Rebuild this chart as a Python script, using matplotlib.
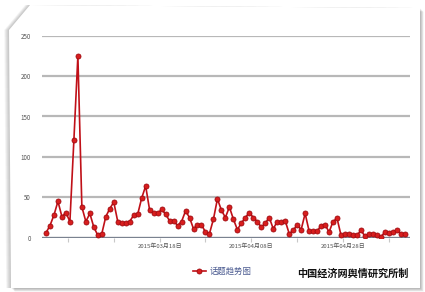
import numpy as np
import matplotlib
matplotlib.use('Agg')
import matplotlib.pyplot as plt
from matplotlib.patches import Polygon

plt.rcParams['font.family'] = ['Noto Sans CJK SC', 'DejaVu Sans']

# daily topic heat values
values = [6, 15, 28, 45, 26, 31, 20, 121, 225, 38,
          20, 30, 13, 3, 5, 26, 36, 44, 20, 18,
          18, 20, 28, 29, 49, 64, 34, 30, 30, 35,
          29, 21, 21, 15, 20, 33, 25, 11, 16, 16,
          7, 5, 23, 48, 34, 25, 38, 23, 10, 18,
          25, 31, 25, 20, 13, 18, 25, 11, 20, 19,
          21, 5, 9, 16, 10, 30, 8, 8, 8, 15,
          16, 7, 20, 24, 3, 4, 4, 3, 3, 9,
          2, 4, 4, 3, 1, 7, 6, 7, 9, 5, 4]
tick_pos = [5.5, 17, 28.5, 40, 51.5, 63, 74.5, 86]
tick_labels = ['', '', '2015年03月18日', '', '2015年04月08日', '', '2015年04月28日', '']
y_ticks = [0, 50, 100, 150, 200, 250]
series_name = '话题趋势图'
credit = '中国经济网舆情研究所制'

W, H = 425, 292
fig = plt.figure(figsize=(W / 100, H / 100), dpi=100)
fig.patch.set_facecolor('white')

# paper card with soft shadow (pixel coords, y down)
paper = [(30, 5), (420, 8), (420, 288), (11, 288), (9, 30)]
def to_fig(pts, dx=0, dy=0):
    return [((x + dx) / W, 1 - (y + dy) / H) for x, y in pts]
for k in range(6, 0, -1):
    fig.patches.append(Polygon(to_fig(paper, dx=k * 0.6, dy=k * 0.6), closed=True,
                               transform=fig.transFigure, facecolor='#000000',
                               alpha=0.05, edgecolor='none', zorder=-3))
    fig.patches.append(Polygon(to_fig(paper, dx=-k * 0.8, dy=0), closed=True,
                               transform=fig.transFigure, facecolor='#000000',
                               alpha=0.04, edgecolor='none', zorder=-3))
fig.patches.append(Polygon(to_fig(paper), closed=True, transform=fig.transFigure,
                           facecolor='white', edgecolor='none', zorder=-2))

ax = fig.add_axes([42 / W, 1 - 237.7 / H, (410 - 42) / W, (237.7 - 35.7) / H])
ax.set_zorder(1)
ax.set_facecolor('none')
x = np.arange(len(values))
ax.plot(x, values, color='#c01018', lw=1.2, marker='o', ms=3.6,
        mfc='#d81e1e', mec='#a00a10', mew=0.6, label=series_name, zorder=3)

ax.set_xlim(-1, len(values) + 0.3)
ax.set_ylim(0, 250)
ax.set_yticks(y_ticks)
ax.set_yticklabels([str(v) for v in y_ticks])
ax.grid(axis='y', color='#b8b8b8', lw=1.6)
ax.axhline(0, color='#7a8290', lw=1.6, zorder=2)
for s in ax.spines.values():
    s.set_visible(False)
ax.tick_params(axis='y', length=0, labelsize=4.5, labelcolor='#555555', pad=8)
ax.set_xticks(tick_pos)
ax.set_xticklabels(tick_labels)
ax.tick_params(axis='x', length=3, width=0.8, color='#c8c8c8', labelsize=4.3,
               labelcolor='#555555', pad=1.5)

leg = fig.legend(loc='center', bbox_to_anchor=(222 / W, 1 - 271 / H), frameon=False,
                 fontsize=6, handlelength=1.6, handletextpad=0.4)
for t in leg.get_texts():
    t.set_color('#4a5a90')

fig.text(409 / W, 1 - 274 / H, credit, ha='right', va='center', fontsize=7.3,
         fontweight='bold', color='#111111')

fig.savefig('out.png', dpi=100)
